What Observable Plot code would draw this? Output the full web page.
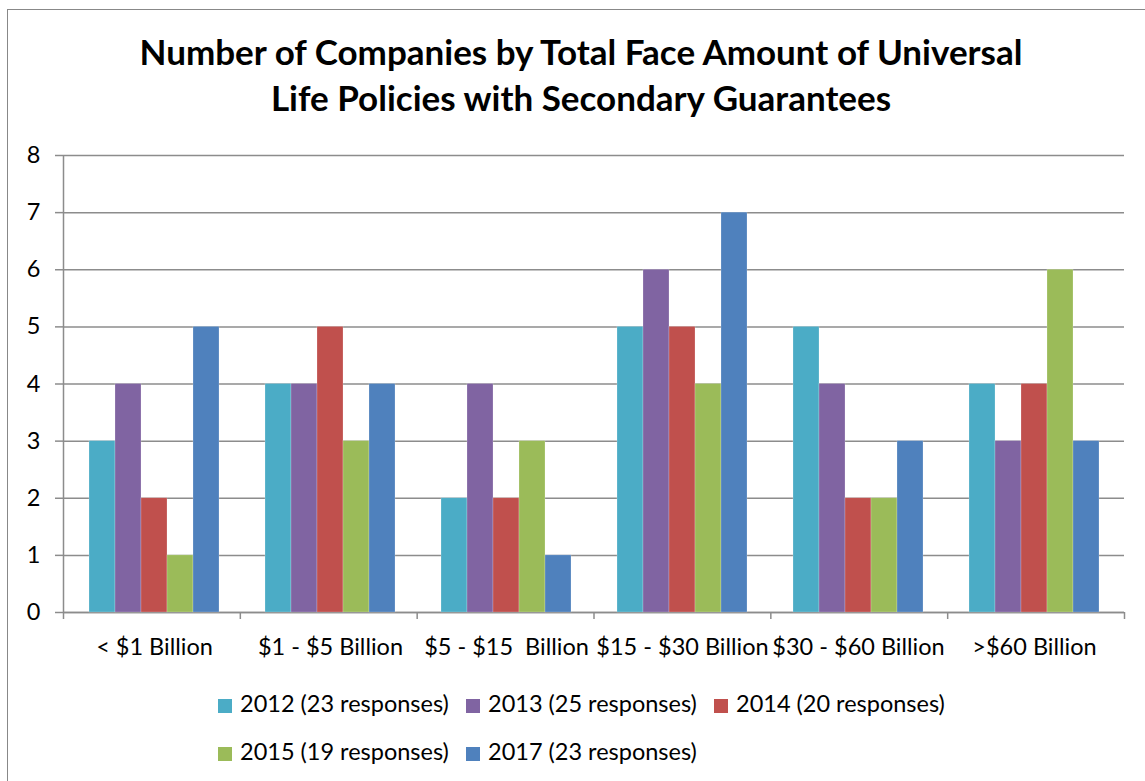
<!DOCTYPE html>
<html>
<head>
<meta charset="utf-8">
<script src="https://cdn.jsdelivr.net/npm/d3@7"></script>
<script src="https://cdn.jsdelivr.net/npm/@observablehq/plot@0.6"></script>
<style>
  html, body { margin: 0; padding: 0; background: #fff; width: 1145px; height: 781px; overflow: hidden; font-family: Lato, "Open Sans", sans-serif; }
  #frame { position: absolute; left: 7px; top: 9px; width: 1170px; height: 800px; border: 1.5px solid #888; box-sizing: border-box; }
  #title { position: absolute; left: 0; width: 1162px; top: 28px; text-align: center; font-weight: bold; font-size: 35px; line-height: 46px; color: #000; }
  .layer { position: absolute; left: 0; top: 130px; }
  svg text { white-space: pre; }
  #legend { position: absolute; left: 218px; top: 689px; width: 760px; display: flex; flex-wrap: wrap; font-size: 23.5px; color: #000; }
  .item { width: 248px; height: 48px; display: flex; align-items: flex-start; }
  .sw { width: 14px; height: 14px; margin-top: 10px; margin-right: 8px; flex: none; }
  .item span { white-space: nowrap; }
</style>
</head>
<body>
<div id="frame"></div>
<div id="title">Number of Companies by Total Face Amount of Universal<br>Life Policies with Secondary Guarantees</div>
<div id="bg" class="layer"></div>
<div id="fg" class="layer"></div>
<div id="legend"></div>
<script>
const categories = ["< $1 Billion", "$1 - $5 Billion", "$5 - $15  Billion", "$15 - $30 Billion", "$30 - $60 Billion", ">$60 Billion"];
const series = ["2012 (23 responses)", "2013 (25 responses)", "2014 (20 responses)", "2015 (19 responses)", "2017 (23 responses)"];
const colors = ["#4BACC6", "#8064A2", "#C0504D", "#9BBB59", "#4F81BD"];
const v2012 = [3, 4, 2, 5, 5, 4];
const v2013 = [4, 4, 4, 6, 4, 3];
const v2014 = [2, 5, 2, 5, 2, 4];
const v2015 = [1, 3, 3, 4, 2, 6];
const v2017 = [5, 4, 1, 7, 3, 3];
const yTicks = [0, 1, 2, 3, 4, 5, 6, 7, 8];

const seriesValues = [v2012, v2013, v2014, v2015, v2017];
const rows = [];
series.forEach((s, i) => categories.forEach((c, j) => rows.push({category: c, series: s, value: seriesValues[i][j]})));

const W = 1145, H = 550;
const margins = {marginLeft: 63, marginRight: 21, marginTop: 25, marginBottom: 68};
const grid = "#8c8c8c";

const bg = Plot.plot({
  width: W, height: H, ...margins,
  style: {fontFamily: "Lato, sans-serif", fontSize: "23.5px", background: "transparent", overflow: "visible"},
  x: {type: "linear", domain: [0, categories.length], axis: null},
  y: {domain: [0, 8], axis: null},
  marks: [
    Plot.gridY(yTicks, {stroke: grid, strokeOpacity: 1, strokeWidth: 1.5}),
    Plot.axisY(yTicks, {tickSize: 8, tickPadding: 15, tickFormat: d3.format("d"), stroke: grid, strokeWidth: 1.5, fill: "#000", fontSize: 23.5}),
    Plot.axisX(d3.range(0, categories.length + 1), {tickSize: 7, tickFormat: () => "", stroke: grid, strokeWidth: 1.5}),
    Plot.ruleX([0], {stroke: grid, strokeWidth: 1.5}),
    Plot.ruleY([0], {stroke: grid, strokeWidth: 1.5})
  ]
});
document.getElementById("bg").appendChild(bg);

const fg = Plot.plot({
  width: W, height: H, ...margins,
  style: {fontFamily: "Lato, sans-serif", fontSize: "23.5px", background: "transparent", overflow: "visible"},
  fx: {domain: categories, paddingInner: 0.24, paddingOuter: 0.12, label: null, axis: null},
  x: {domain: series, padding: 0, axis: null},
  y: {domain: [0, 8], axis: null},
  color: {domain: series, range: colors},
  marks: [
    Plot.barY(rows, {fx: "category", x: "series", y: "value", fill: "series", stroke: "#ffffff", strokeOpacity: 0.35, strokeWidth: 0.6}),
    Plot.axisFx({anchor: "bottom", tickSize: 0, tickPadding: 26, fontSize: 23.5, fill: "#000", label: null})
  ]
});
document.getElementById("fg").appendChild(fg);

const legend = document.getElementById("legend");
series.forEach((s, i) => {
  const item = document.createElement("div");
  item.className = "item";
  const sw = document.createElement("div");
  sw.className = "sw";
  sw.style.background = colors[i];
  const t = document.createElement("span");
  t.textContent = s;
  item.appendChild(sw);
  item.appendChild(t);
  legend.appendChild(item);
});
</script>
</body>
</html>
